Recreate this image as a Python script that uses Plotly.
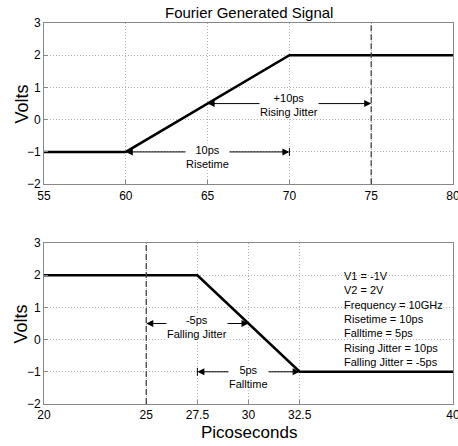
import plotly.graph_objects as go

# Data
rise_t = [55, 60, 70, 80]
rise_v = [-1, -1, 2, 2]
fall_t = [20, 27.5, 32.5, 40]
fall_v = [2, 2, -1, -1]
top_xticks = [55, 60, 65, 70, 75, 80]
bot_xticks = [20, 25, 27.5, 30, 32.5, 40]
bot_xticklabels = ["20", "25", "27.5", "30", "32.5", "40"]
yticks = [-2, -1, 0, 1, 2, 3]
rise_jitter_line = 75
fall_jitter_line = 25
info_lines = ["V1 = -1V", "V2 = 2V", "Frequency = 10GHz", "Risetime = 10ps",
              "Falltime = 5ps", "Rising Jitter = 10ps", "Falling Jitter = -5ps"]

FONT = "Liberation Sans Narrow, Liberation Sans, Arial"

fig = go.Figure()
fig.add_trace(go.Scatter(x=rise_t, y=rise_v, mode="lines", line=dict(color="black", width=2.6),
                         xaxis="x", yaxis="y", showlegend=False))
fig.add_trace(go.Scatter(x=fall_t, y=fall_v, mode="lines", line=dict(color="black", width=2.6),
                         xaxis="x2", yaxis="y2", showlegend=False))

# dashed vertical jitter lines
fig.add_shape(type="line", xref="x", yref="y", x0=rise_jitter_line, x1=rise_jitter_line, y0=-2, y1=3,
              line=dict(color="#444", width=1.3, dash="6px,3px"))
fig.add_shape(type="line", xref="x2", yref="y2", x0=fall_jitter_line, x1=fall_jitter_line, y0=-2, y1=3,
              line=dict(color="#444", width=1.3, dash="6px,3px"))

def darrow(xr, yr, x0, x1, y, mid):
    for tip in (x0, x1):
        fig.add_annotation(xref=xr, yref=yr, axref=xr, ayref=yr, x=tip, y=y, ax=mid, ay=y,
                           text="", showarrow=True, arrowhead=2, arrowsize=1.4, arrowwidth=1,
                           arrowcolor="black", standoff=0, startstandoff=0)

def label(xr, yr, x, y, text):
    fig.add_annotation(xref=xr, yref=yr, x=x, y=y, text=text, showarrow=False,
                       bgcolor="white", font=dict(family=FONT, size=11, color="black"),
                       borderpad=0)

# top annotations
darrow("x", "y", 65, 75, 0.5, 70)
label("x", "y", 70, 0.45, "+10ps<br>Rising Jitter")
darrow("x", "y", 60, 70, -1, 65)
label("x", "y", 65, -1.16, "10ps<br>Risetime")
fig.add_shape(type="line", xref="x", yref="y", x0=70, x1=70, y0=-1.12, y1=-0.88,
              line=dict(color="black", width=1))

# bottom annotations
darrow("x2", "y2", 25, 30, 0.5, 27.5)
label("x2", "y2", 27.5, 0.38, "-5ps<br>Falling Jitter")
darrow("x2", "y2", 27.5, 32.5, -1, 30)
label("x2", "y2", 30, -1.16, "5ps<br>Falltime")
fig.add_shape(type="line", xref="x2", yref="y2", x0=27.5, x1=27.5, y0=-1.12, y1=-0.88,
              line=dict(color="black", width=1))

fig.add_annotation(xref="x2", yref="y2", x=34.55, y=2.22, xanchor="left", yanchor="top", align="left",
                   text="<br>".join(info_lines), showarrow=False,
                   font=dict(family=FONT, size=11, color="black"))

# titles
fig.add_annotation(xref="paper", yref="paper", x=0.5, y=1, yshift=11, text="Fourier Generated Signal",
                   showarrow=False, font=dict(family=FONT, size=15, color="black"), yanchor="middle")
for yc in [(1 + 0.577) / 2, 0.4226 / 2]:
    fig.add_annotation(xref="paper", yref="paper", x=-0.054, y=yc, text="Volts", textangle=-90,
                       showarrow=False, font=dict(family=FONT, size=18, color="black"),
                       xanchor="center", yanchor="middle")
fig.add_annotation(xref="paper", yref="paper", x=0.5, y=0, yshift=-28, text="Picoseconds",
                   showarrow=False, font=dict(family=FONT, size=17, color="black"), yanchor="middle")

ax_common = dict(showgrid=True, gridcolor="#b0b0b0", griddash="1px,2px", gridwidth=1,
                 showline=True, linecolor="#888", linewidth=1, mirror=True,
                 ticks="inside", ticklen=4, tickcolor="#888", zeroline=False,
                 ticklabeloverflow="allow", automargin=False,
                 tickfont=dict(family=FONT, size=12, color="black"))

fig.update_layout(
    width=458, height=446,
    margin=dict(l=44, r=5, t=23, b=42, autoexpand=False),
    paper_bgcolor="white", plot_bgcolor="white",
    xaxis=dict(domain=[0, 1], range=[55, 80], tickvals=top_xticks, anchor="y", **ax_common),
    yaxis=dict(domain=[0.577, 1], range=[-2, 3], tickvals=yticks, anchor="x", **ax_common),
    xaxis2=dict(domain=[0, 1], range=[20, 40], tickvals=bot_xticks, ticktext=bot_xticklabels,
                anchor="y2", **ax_common),
    yaxis2=dict(domain=[0, 0.4226], range=[-2, 3], tickvals=yticks, anchor="x2", **ax_common),
)

fig.write_html("out.html")
